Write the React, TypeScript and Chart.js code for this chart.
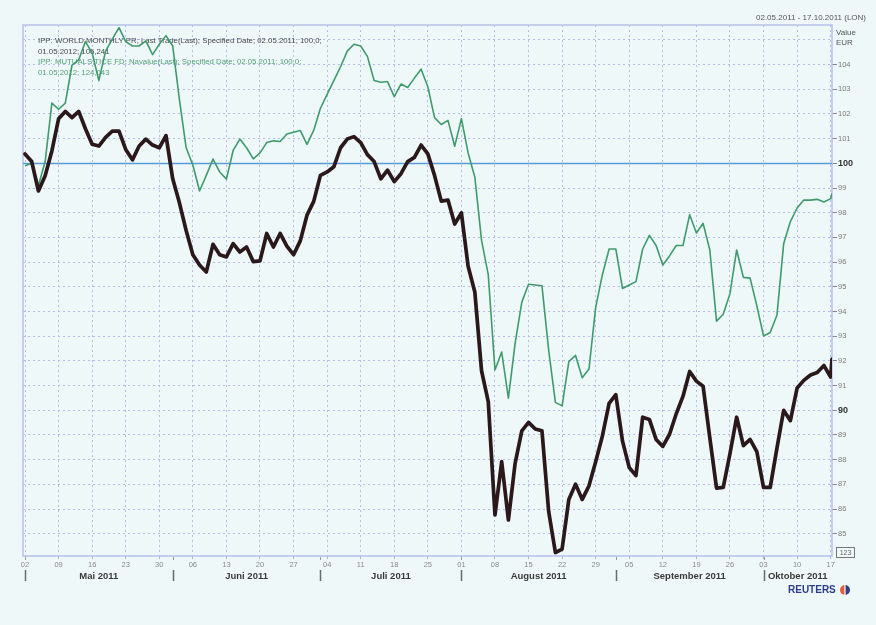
import React, { useEffect, useRef } from "react";
import { Chart, registerables } from "chart.js";

Chart.register(...registerables);

// IPP: WORLD MONTHLY PR (black), trading days from 02.05.2011 (index 0) to 17.10.2011 (index 120)
const worldValues = [
  100.38, 100.07, 98.88, 99.5, 100.5, 101.8, 102.1, 101.85, 102.1, 101.4,
  100.77, 100.7, 101.05, 101.3, 101.3, 100.56, 100.14, 100.7, 100.98, 100.74,
  100.63, 101.12, 99.37, 98.4, 97.28, 96.3, 95.88, 95.6, 96.72, 96.3,
  96.21, 96.75, 96.41, 96.61, 96.02, 96.05, 97.16, 96.61, 97.16, 96.65,
  96.3, 96.86, 97.9, 98.46, 99.51, 99.65, 99.86, 100.63, 100.98, 101.08,
  100.84, 100.35, 100.07, 99.37, 99.72, 99.26, 99.58, 100.07, 100.24, 100.74,
  100.38, 99.51, 98.47, 98.51, 97.54, 97.99, 95.83, 94.79, 91.6, 90.35,
  85.76, 87.92, 85.56, 87.85, 89.17, 89.51, 89.24, 89.17, 85.9, 84.24,
  84.38, 86.39, 87.01, 86.39, 86.94, 87.92, 88.96, 90.28, 90.63, 88.75,
  87.68, 87.36, 89.72, 89.63, 88.82, 88.54, 89.03, 89.86, 90.56, 91.57,
  91.18, 90.97, 88.89, 86.85, 86.88, 88.24, 89.72, 88.57, 88.82, 88.33,
  86.88, 86.88, 88.47, 90.0, 89.58, 90.9, 91.21, 91.43, 91.53, 91.81,
  91.35,
];

// IPP: MUTUALS.TICE FD (green)
const mutualValues = [
  99.9, 100.0, 99.1, 100.07, 102.44, 102.19, 102.44, 103.98, 104.19, 104.93,
  104.47, 103.35, 104.54, 105.03, 105.49, 104.93, 104.75, 104.75, 104.96, 104.4,
  104.82, 105.17, 104.75, 102.58, 100.63, 99.93, 98.88, 99.51, 100.17, 99.65,
  99.36, 100.52, 100.98, 100.63, 100.18, 100.42, 100.84, 100.91, 100.88, 101.19,
  101.26, 101.33, 100.77, 101.33, 102.23, 102.79, 103.35, 103.91, 104.54, 104.82,
  104.75, 104.33, 103.35, 103.28, 103.31, 102.7, 103.21, 103.07, 103.45, 103.81,
  103.1, 101.85, 101.57, 101.74, 100.69, 101.81, 100.42, 99.44, 96.88, 95.49,
  91.63, 92.36, 90.49, 92.71, 94.38, 95.1, 95.07, 95.04, 92.43, 90.32,
  90.18, 91.97, 92.22, 91.32, 91.67, 94.17, 95.49, 96.53, 96.53, 94.93,
  95.07, 95.21, 96.53, 97.08, 96.67, 95.88, 96.25, 96.67, 96.67, 97.92,
  97.18, 97.57, 96.49, 93.61, 93.89, 94.72, 96.49, 95.38, 95.35, 94.24,
  93.01, 93.15, 93.85, 96.74, 97.64, 98.19, 98.51, 98.51, 98.54, 98.43,
  98.57,
];

// last (intraday) value drawn just after 17.10
const finalDay = 120.2;
const worldFinal = 92.07;
const mutualFinal = 98.78;

const weekTickDays = [0, 5, 10, 15, 20, 25, 30, 35, 40, 45, 50, 55, 60, 65, 70, 75, 80, 85, 90, 95, 100, 105, 110, 115, 120];
const weekTickLabels = ["02", "09", "16", "23", "30", "06", "13", "20", "27", "04", "11", "18", "25", "01", "08", "15", "22", "29", "05", "12", "19", "26", "03", "10", "17"];
const monthStartDays = [0, 22, 44, 65, 88, 110];
const monthLabels = ["Mai 2011", "Juni 2011", "Juli 2011", "August 2011", "September 2011", "Oktober 2011"];
const yTickValues = [85, 86, 87, 88, 89, 90, 91, 92, 93, 94, 95, 96, 97, 98, 99, 100, 101, 102, 103, 104, 105];
const yLabelledMax = 104;

const legendLines = [
  "IPP: WORLD MONTHLY PR; Last Trade(Last); Specified Date; 02.05.2011; 100,0;",
  "01.05.2012; 106,241",
  "IPP: MUTUALS.TICE FD; Navalue(Last); Specified Date; 02.05.2011; 100,0;",
  "01.05.2012; 124,043",
];
const headerText = "02.05.2011 - 17.10.2011 (LON)";

const BG = "#eff8f8";
const GRID = "#b4bdee";
const FONT = "'Liberation Sans', Arial, sans-serif";
const BLACK_LINE = "#2a181b";
const GREEN_LINE = "#3f9a6e";

export default function App() {
  const ref = useRef<HTMLCanvasElement | null>(null);

  useEffect(() => {
    const canvas = ref.current;
    if (!canvas) return;

    const worldData = worldValues.map((v, i) => ({ x: i, y: v }));
    worldData.push({ x: finalDay, y: worldFinal });
    const mutualData = mutualValues.map((v, i) => ({ x: i, y: v }));
    mutualData.push({ x: finalDay, y: mutualFinal });

    const decor = {
      id: "decor",
      beforeDraw(chart: any) {
        const c = chart.ctx;
        c.save();
        c.fillStyle = BG;
        c.fillRect(0, 0, chart.width, chart.height);
        c.restore();
      },
      beforeDatasetsDraw(chart: any) {
        const c = chart.ctx;
        const a = chart.chartArea;
        const ys = chart.scales.y;
        c.save();
        c.strokeStyle = "#b9c0ec";
        c.lineWidth = 1.5;
        c.strokeRect(a.left, a.top, a.right - a.left, a.bottom - a.top);
        const y100 = Math.round(ys.getPixelForValue(100)) + 0.5;
        c.strokeStyle = "#5b9ad8";
        c.lineWidth = 1.3;
        c.beginPath();
        c.moveTo(a.left, y100);
        c.lineTo(a.right, y100);
        c.stroke();
        c.font = `7.8px ${FONT}`;
        c.textBaseline = "middle";
        c.textAlign = "left";
        const ly = [41, 51.5, 62, 72.5];
        legendLines.forEach((t, i) => {
          c.fillStyle = i < 2 ? "#4a4a4a" : "#55a07c";
          c.fillText(t, a.left + 15, ly[i]);
        });
        c.restore();
      },
      afterDraw(chart: any) {
        const c = chart.ctx;
        const a = chart.chartArea;
        const xs = chart.scales.x;
        c.save();
        c.font = `8px ${FONT}`;
        c.fillStyle = "#555";
        c.textBaseline = "middle";
        c.textAlign = "right";
        c.fillText(headerText, 866, 18);
        c.textAlign = "left";
        c.fillText("Value", a.right + 4, 33);
        c.fillText("EUR", a.right + 4, 43);
        c.strokeStyle = "#9a9a9a";
        c.lineWidth = 1;
        monthStartDays.forEach((d) => {
          const x = Math.round(xs.getPixelForValue(d)) + 0.5;
          c.beginPath();
          c.moveTo(x, a.bottom + 1);
          c.lineTo(x, a.bottom + 4);
          c.stroke();
        });
        c.strokeStyle = "#6a6a6a";
        c.lineWidth = 1.5;
        c.font = `bold 9.5px ${FONT}`;
        c.fillStyle = "#3a3a3a";
        c.textAlign = "center";
        monthStartDays.forEach((d, i) => {
          const x = Math.round(xs.getPixelForValue(d)) + 0.5;
          c.beginPath();
          c.moveTo(x, 570);
          c.lineTo(x, 581);
          c.stroke();
          const end = i + 1 < monthStartDays.length ? monthStartDays[i + 1] : xs.max;
          const cx = (xs.getPixelForValue(d) + xs.getPixelForValue(end)) / 2;
          c.fillText(monthLabels[i], cx, 576);
        });
        c.strokeStyle = "#777";
        c.lineWidth = 1;
        c.strokeRect(836.5, 547.5, 18, 10);
        c.font = `7px ${FONT}`;
        c.fillStyle = "#666";
        c.textAlign = "center";
        c.fillText("123", 845.5, 553);
        c.font = `bold 10px ${FONT}`;
        c.fillStyle = "#2b3d8c";
        c.textAlign = "left";
        c.fillText("REUTERS", 788, 590.5);
        const lx = 845, ly = 590;
        c.beginPath();
        c.arc(lx, ly, 5, Math.PI / 2, (3 * Math.PI) / 2);
        c.fillStyle = "#e2603c";
        c.fill();
        c.beginPath();
        c.arc(lx, ly, 5, -Math.PI / 2, Math.PI / 2);
        c.fillStyle = "#2b3d8c";
        c.fill();
        c.fillStyle = "#ffffff";
        c.fillRect(lx - 0.6, ly - 5, 1.2, 10);
        c.restore();
      },
    };

    const chart = new Chart(canvas, {
      type: "line",
      data: {
        datasets: [
          {
            label: "IPP: WORLD MONTHLY PR",
            data: worldData,
            borderColor: BLACK_LINE,
            borderWidth: 3.7,
            pointRadius: 0,
            tension: 0,
            borderJoinStyle: "round",
            borderCapStyle: "round",
          },
          {
            label: "IPP: MUTUALS.TICE FD",
            data: mutualData,
            borderColor: GREEN_LINE,
            borderWidth: 1.6,
            pointRadius: 0,
            tension: 0,
            borderJoinStyle: "round",
          },
        ],
      },
      options: {
        responsive: false,
        animation: false,
        events: [],
        layout: { padding: { left: 23, top: 25, right: 0, bottom: 0 } },
        plugins: { legend: { display: false }, tooltip: { enabled: false } },
        scales: {
          x: {
            type: "linear",
            min: -0.3,
            max: finalDay,
            afterBuildTicks: (s: any) => {
              s.ticks = weekTickDays.map((v) => ({ value: v }));
            },
            afterFit: (s: any) => {
              s.height = 69;
            },
            ticks: {
              autoSkip: false,
              maxRotation: 0,
              minRotation: 0,
              padding: 1,
              color: "#8a8a8a",
              font: { family: FONT, size: 7.5 },
              callback: (_v: any, i: number) => weekTickLabels[i],
            },
            grid: {
              color: GRID,
              lineWidth: 1,
              drawTicks: true,
              tickLength: 3,
              tickColor: "#aab3e6",
            },
            border: { display: false, dash: [2, 3] },
          },
          y: {
            type: "linear",
            position: "right",
            min: 84.1,
            max: 105.6,
            afterBuildTicks: (s: any) => {
              s.ticks = yTickValues.map((v) => ({ value: v }));
            },
            afterFit: (s: any) => {
              s.width = 44;
            },
            ticks: {
              padding: 1,
              color: (ctx: any) => (ctx.tick && ctx.tick.value % 10 === 0 ? "#333" : "#7a7a7a"),
              font: (ctx: any) =>
                ctx.tick && ctx.tick.value % 10 === 0
                  ? { family: FONT, size: 9, weight: "bold" }
                  : { family: FONT, size: 7.5 },
              callback: (v: any) => (v > yLabelledMax ? "" : String(v)),
            },
            grid: {
              color: (ctx: any) => (ctx.tick && ctx.tick.value === 100 ? "#5b9ad8" : GRID),
              lineWidth: 1,
              drawTicks: true,
              tickLength: 5,
              tickColor: (ctx: any) => (ctx.tick && ctx.tick.value > yLabelledMax ? "rgba(0,0,0,0)" : "#888"),
            },
            border: {
              display: false,
              dash: (ctx: any) => (ctx.tick && ctx.tick.value === 100 ? [] : [2, 3]),
            },
          },
        },
      },
      plugins: [decor],
    } as any);

    return () => chart.destroy();
  }, []);

  return (
    <div style={{ position: "fixed", left: 0, top: 0, width: 876, height: 625, background: BG }}>
      <canvas ref={ref} width={876} height={625} style={{ display: "block", width: 876, height: 625 }} />
    </div>
  );
}
